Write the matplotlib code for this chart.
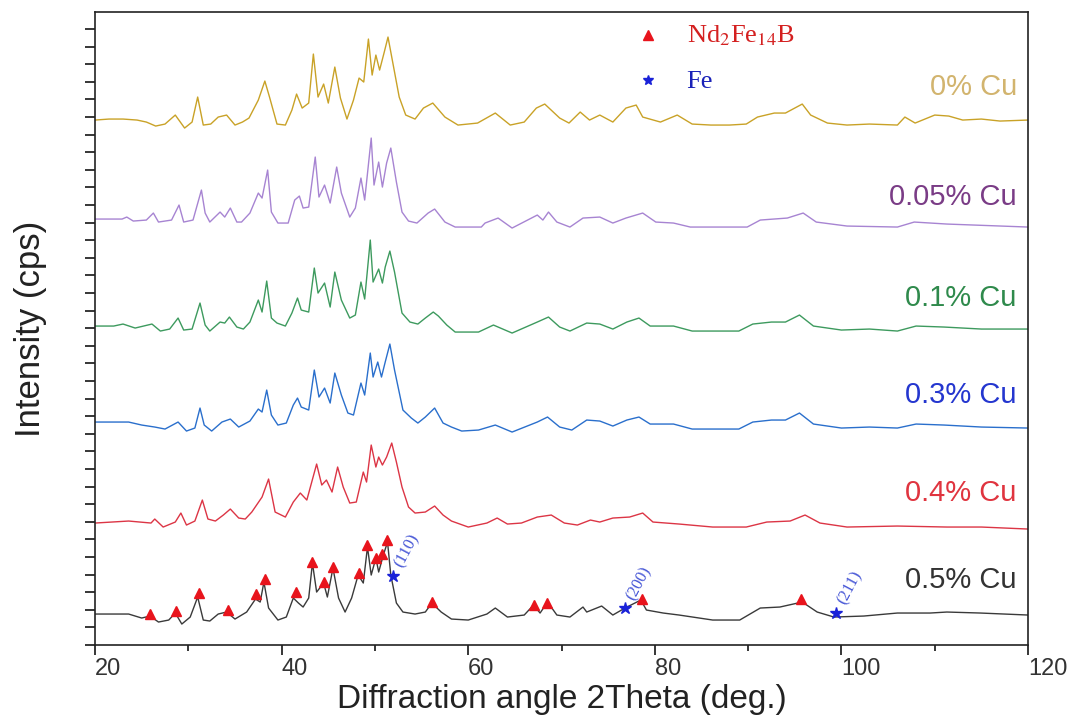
import matplotlib.pyplot as plt
from matplotlib.ticker import MultipleLocator

plt.rcParams['font.family'] = 'Liberation Sans'
plt.rcParams['mathtext.fontset'] = 'stix'

# intensities are read relative to each pattern's own background (a.u.)
# 0% Cu
tth_0 = [20, 21.5, 23, 24.5, 25.5, 26.5, 27.5, 28.6, 29.6, 30.4, 31.0, 31.6, 32.4, 33.2, 34.1,
         35.0, 35.8, 36.5, 37.5, 38.2, 38.7, 39.5, 40.4, 41.1, 41.6, 42.2, 42.9, 43.4, 43.9, 44.5,
         45.0, 45.7, 46.3, 47.0, 47.7, 48.3, 48.8, 49.3, 49.7, 50.1, 50.5, 51.0, 51.4, 52.0, 52.6,
         53.3, 54.3, 55.2, 56.2, 57.5, 58.9, 61.0, 62.9, 64.5, 66.0, 67.3, 68.2, 69.8, 70.8, 72.0,
         73.0, 74.1, 75.5, 76.9, 78.0, 78.7, 80.6, 82.4, 84.0, 86.0, 88.0, 89.8, 91.0, 92.8, 94.0,
         95.8, 96.7, 98.5, 100.6, 103.0, 106.0, 106.8, 107.9, 110.0, 111.5, 113.0, 115.0, 117.0, 120.0]
int_0 = [1, 2, 2, 1, -1, -5, -3, 6, -7, -1, 24, -4, -3, 4, 6,
         -4, -1, 3, 21, 40, 24, -3, -4, 11, 27, 13, 18, 67, 24, 37,
         18, 54, 23, 2, 21, 43, 39, 82, 46, 66, 51, 69, 84, 54, 24,
         6, 2, 13, 18, 4, -4, -2, 8, -4, -1, 13, 17, 3, -2, 9,
         1, 6, -1, 13, 16, 4, -1, 6, -3, -4, -4, -3, 4, 8, 8,
         17, 6, -2, -4, -3, -4, 4, -2, 6, 5, 1, 2, 0, 1]

# 0.05% Cu
tth_005 = [20, 22.9, 23.4, 24.1, 25.5, 26.25, 26.8, 28.2, 29.0, 29.5, 30.5, 31.4, 31.8, 32.3, 33.4,
           33.9, 34.5, 35.2, 35.7, 36.6, 37.5, 37.9, 38.5, 38.9, 39.6, 40.7, 41.4, 41.9, 42.3, 42.9,
           43.6, 44.0, 44.6, 45.2, 45.9, 46.4, 47.3, 47.9, 48.5, 48.9, 49.6, 49.9, 50.4, 50.8, 51.25,
           51.7, 52.3, 52.9, 53.6, 54.5, 55.7, 56.4, 57.5, 58.6, 61.4, 61.8, 63.2, 64.7, 67.4, 68.0,
           68.6, 69.5, 70.9, 72.3, 74.1, 75.5, 76.9, 78.7, 80.1, 82.0, 83.8, 89.9, 91.3, 94.2, 95.9,
           97.3, 100.6, 106.0, 107.8, 111.3, 114.2, 120.0]
int_005 = [3, 3, 5, 1, 2, 9, 0, 2, 17, 0, 2, 32, 9, 0, 10,
           5, 14, 0, 0, 9, 29, 24, 52, 10, -1, -1, 22, 26, 14, 15,
           65, 25, 37, 19, 55, 29, 5, 14, 44, 22, 84, 37, 60, 35, 59,
           74, 40, 10, 1, -1, 9, 13, 0, -5, -5, -1, 4, -6, 7, 2,
           10, 0, -5, 4, 5, -1, 4, 9, 0, -1, -5, -5, 2, 4, 9,
           0, -4, -5, 0, -2, -3, -5]

# 0.1% Cu
tth_01 = [20, 22.0, 23.0, 24.3, 26.1, 27.0, 28.0, 28.9, 29.5, 30.4, 31.25, 31.8, 32.3, 33.4, 33.9,
          34.4, 35.2, 35.9, 36.6, 37.5, 37.9, 38.4, 38.9, 39.5, 40.4, 41.1, 41.7, 42.1, 42.9, 43.5,
          43.9, 44.6, 45.2, 45.7, 46.4, 47.3, 47.9, 48.5, 48.9, 49.5, 49.8, 50.4, 50.8, 51.1, 51.6,
          52.1, 52.9, 53.75, 54.6, 55.4, 56.25, 56.8, 57.7, 58.6, 61.1, 62.7, 64.7, 67.4, 68.6, 69.8,
          70.9, 72.7, 74.1, 75.5, 77.0, 78.3, 79.5, 82.0, 84.0, 89.0, 90.5, 92.5, 94.0, 95.5, 97.0,
          100.0, 103.0, 106.0, 108.0, 111.0, 115.0, 120.0]
int_01 = [1, 1, 3, -1, 3, -4, -2, 9, -3, -2, 24, 2, -4, 5, 4,
          10, 0, -2, 5, 27, 15, 46, 9, 4, 1, 14, 29, 17, 15, 59,
          34, 44, 20, 55, 27, 9, 12, 45, 28, 87, 45, 58, 44, 60, 76,
          55, 14, 5, 3, 9, 15, 11, 2, -5, -5, 2, -6, 5, 10, 0,
          -4, 4, 3, -2, 5, 9, 1, 1, -4, -4, 3, 5, 5, 12, 1,
          -3, -2, -4, 1, 0, -2, -2]

# 0.3% Cu
tth_03 = [20, 23.6, 25.0, 26.4, 27.5, 28.9, 29.8, 30.7, 31.25, 31.7, 32.5, 33.6, 34.5, 35.4, 36.6,
          37.5, 37.9, 38.4, 38.9, 39.6, 40.5, 41.25, 41.7, 42.1, 42.9, 43.5, 44.0, 44.6, 45.2, 45.7,
          46.4, 47.1, 47.7, 48.5, 48.9, 49.5, 49.8, 50.3, 50.7, 51.1, 51.6, 52.1, 53.0, 53.9, 54.6,
          55.4, 56.4, 57.3, 58.2, 59.3, 61.1, 62.9, 64.7, 67.4, 68.5, 69.8, 71.1, 72.7, 74.1, 75.5,
          77.0, 78.3, 79.5, 82.0, 84.0, 89.0, 90.5, 92.5, 94.0, 95.5, 97.0, 100.0, 103.0, 106.0, 108.0,
          111.0, 115.0, 120.0]
int_03 = [2, 2, -1, -3, -5, 2, -7, -4, 16, -1, -7, 2, 5, -3, 3,
          15, 12, 34, 9, -1, 1, 19, 26, 17, 14, 54, 27, 36, 21, 51,
          29, 11, 9, 41, 29, 71, 47, 62, 47, 62, 80, 54, 14, 6, 1,
          7, 16, 1, -3, -7, -6, -1, -8, 2, 7, -3, -6, 4, 3, -2,
          4, 7, 0, 0, -5, -5, 2, 4, 4, 11, 0, -4, -3, -4, 0,
          -1, -3, -4]

# 0.4% Cu
tth_04 = [20, 23.6, 26.0, 26.4, 27.3, 28.6, 29.2, 29.8, 30.7, 31.5, 32.1, 32.9, 33.75, 34.5, 35.4,
          36.1, 36.8, 37.9, 38.6, 39.3, 40.4, 41.25, 42.0, 42.7, 43.75, 44.3, 44.8, 45.4, 46.0, 46.6,
          47.3, 48.0, 48.75, 49.1, 49.6, 50.1, 50.4, 50.8, 51.25, 51.8, 52.3, 52.9, 53.6, 54.3, 55.4,
          56.4, 57.3, 58.2, 60.0, 62.0, 63.1, 64.2, 65.7, 67.4, 68.9, 70.3, 71.7, 73.1, 74.1, 75.5,
          77.3, 78.7, 79.8, 82.6, 86.2, 89.8, 92.0, 94.5, 96.1, 97.7, 100.6, 106.0, 111.3, 115.0, 120.0]
int_04 = [1, 3, 1, 5, -3, 2, 11, -1, 3, 24, 5, 3, 9, 15, 6,
          5, 12, 27, 45, 12, 7, 22, 31, 24, 60, 39, 44, 32, 57, 37,
          21, 22, 52, 42, 79, 57, 67, 59, 67, 81, 62, 37, 17, 11, 12,
          18, 9, 3, -3, 1, 6, 0, 1, 7, 9, 1, -1, 4, 2, 6,
          7, 11, 2, 0, -3, -3, 2, 3, 9, 1, -3, -2, -3, -3, -5]

# 0.5% Cu
tth_05 = [20, 23.6, 25.0, 25.9, 26.8, 27.9, 28.6, 29.3, 30.2, 31.0, 31.6, 32.3, 33.2, 34.1, 35.0,
          36.25, 37.2, 37.7, 38.1, 38.6, 39.6, 40.5, 41.25, 41.8, 42.3, 42.9, 43.3, 43.75, 44.5, 44.9,
          45.5, 46.1, 46.8, 47.5, 48.2, 48.75, 49.2, 49.6, 50.1, 50.4, 50.9, 51.35, 51.7, 52.3, 53.0,
          54.3, 55.4, 56.1, 57.1, 58.2, 60.0, 62.0, 62.9, 64.2, 66.0, 67.0, 67.7, 68.5, 69.5, 70.9,
          72.3, 72.7, 74.3, 75.5, 76.8, 78.5, 79.1, 80.9, 82.6, 86.2, 89.1, 91.3, 93.4, 95.8, 97.4,
          99.2, 102.4, 106.0, 109.5, 111.3, 114.9, 120.0]
int_05 = [1, 1, -3, -1, -7, -5, 2, -9, -2, 18, -5, -6, 1, 3, -4,
          3, 16, 13, 33, 7, -5, -2, 17, 12, 8, 17, 52, 23, 32, 18,
          47, 17, 3, 17, 40, 32, 68, 40, 57, 43, 60, 73, 40, 12, 3,
          1, 3, 12, 3, -4, -5, 1, 7, -2, 0, 10, 2, 13, 0, -2,
          8, 3, 9, 0, 7, 15, 5, 2, 0, -5, -5, 7, 8, 13, 3,
          -2, -1, 2, 2, 3, 2, 0]

labels = ['0% Cu', '0.05% Cu', '0.1% Cu', '0.3% Cu', '0.4% Cu', '0.5% Cu']
offsets = [524, 423, 318, 221, 121, 30]

# phase markers on the 0.5% Cu pattern
nd_tth = [25.9, 28.7, 31.1, 34.2, 37.3, 38.2, 41.5, 43.3, 44.5, 45.5, 48.3, 49.2, 50.1, 50.8, 51.3,
          56.1, 67.0, 68.4, 78.6, 95.7]
nd_int = [1, 4, 22, 5, 21, 36, 23, 53, 33, 48, 42, 70, 57, 61, 75, 13, 10, 12, 16, 16]
fe_tth = [51.9, 76.8, 99.4]
fe_int = [39, 7, 2]
fe_hkl = ['(110)', '(200)', '(211)']

tths = [tth_0, tth_005, tth_01, tth_03, tth_04, tth_05]
ints = [int_0, int_005, int_01, int_03, int_04, int_05]
line_colors = ['#c9a227', '#a784d2', '#3d9a5e', '#2a6fcc', '#dc3545', '#3a3a3a']
text_colors = ['#d2b46e', '#7a3c86', '#2f8a4c', '#2436cf', '#e0343f', '#333333']
label_dy = [34, 25, 29, 29, 31, 35]

fig = plt.figure(figsize=(10.74, 7.22), dpi=100)
ax = fig.add_axes([0.0885, 0.1066, 0.8687, 0.8767])

for t, y, off, lc, tc, lab, dy in zip(tths, ints, offsets, line_colors, text_colors, labels, label_dy):
    ax.plot(t, [v + off for v in y], color=lc, lw=1.0)
    ax.text(118.8, off + dy, lab, color=tc, fontsize=21, ha='right', va='center')

base = offsets[-1]
ax.plot(nd_tth, [v + base for v in nd_int], ls='none', marker='^', ms=7.5, color='#e8141c')
ax.plot(fe_tth, [v + base for v in fe_int], ls='none', marker='*', ms=9, color='#1a22d8')
for t, v, hkl in zip(fe_tth, fe_int, fe_hkl):
    ax.annotate(hkl, (t, v + base), xytext=(10, 18), textcoords='offset points',
                ha='center', va='center', rotation=62, color='#4656d6',
                fontsize=12, family='Liberation Serif')

# phase key
ax.plot([0.593], [0.963], transform=ax.transAxes, marker='^', ms=7, color='#e8141c', clip_on=False)
ax.plot([0.593], [0.892], transform=ax.transAxes, marker='*', ms=7, color='#1a22d8', clip_on=False)
ax.text(0.634, 0.962, r'Nd$_2$Fe$_{14}$B', transform=ax.transAxes, color='#d42020',
        fontsize=19, family='Liberation Serif', va='center')
ax.text(0.634, 0.889, 'Fe', transform=ax.transAxes, color='#1a22b8',
        fontsize=19, family='Liberation Serif', va='center')

ax.set_xlim(20, 120)
ax.set_ylim(0, 633)
ax.xaxis.set_major_locator(MultipleLocator(20))
ax.xaxis.set_minor_locator(MultipleLocator(10))
ax.yaxis.set_major_locator(MultipleLocator(17.6))
ax.tick_params(axis='x', which='major', direction='out', length=7.5, width=1.1,
               labelsize=17, labelcolor='#333333', pad=1.5)
ax.tick_params(axis='x', which='minor', direction='out', length=4, width=1.1)
ax.tick_params(axis='y', direction='out', length=7, width=1.1, labelleft=False)
for lbl in ax.get_xticklabels():
    lbl.set_ha('left')
for sp in ax.spines.values():
    sp.set_linewidth(1.2)
    sp.set_color('#222222')

ax.set_xlabel('Diffraction angle 2Theta (deg.)', fontsize=24, color='#222222')
ax.set_ylabel('Intensity (cps)', fontsize=25, color='#222222')
ax.xaxis.set_label_coords(0.5, -0.062)
ax.yaxis.set_label_coords(-0.052, 0.5)

fig.savefig('out.png', dpi=100)
